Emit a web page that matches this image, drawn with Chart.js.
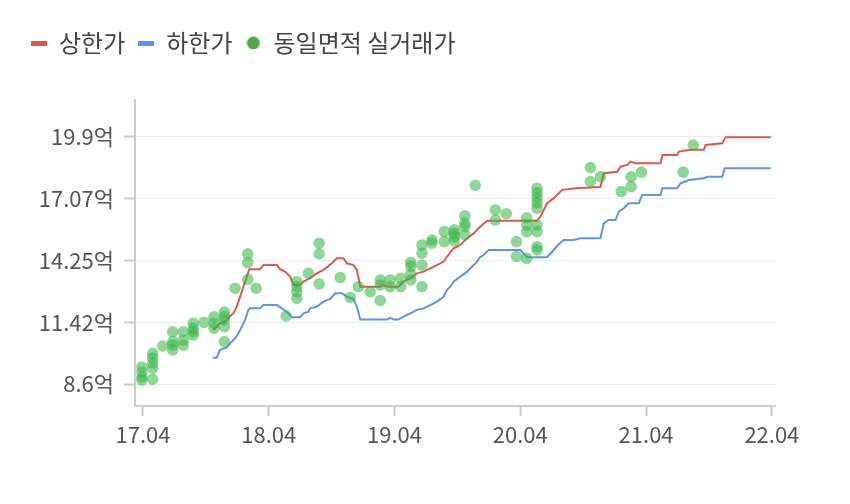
<!DOCTYPE html>
<html>
<head>
<meta charset="utf-8">
<script src="https://cdn.jsdelivr.net/npm/chart.js@4"></script>
<style>
  html, body { margin: 0; padding: 0; background: #fff; }
  #wrap { width: 850px; height: 504px; position: relative; }
</style>
</head>
<body>
<div id="wrap"><canvas id="chart"></canvas></div>
<script>
// ---- Data (x = months since 2017.04, y = price in 억) ----
const upperMonths = [6.66, 7.04, 7.35, 7.83, 8.12, 8.62, 8.95, 9.58, 10.15, 11.17, 11.49, 12.77, 13.08, 13.56, 14.04, 14.36, 14.99, 15.31, 15.95, 16.59, 17.22, 18.02, 18.5, 19.13, 19.46, 20.09, 20.41, 20.73, 22.64, 22.95, 23.43, 24.38, 24.86, 25.5, 26.14, 26.77, 27.41, 28.05, 28.68, 29.0, 29.64, 30.28, 30.92, 31.55, 32.19, 32.83, 37.6, 37.92, 38.56, 39.19, 39.99, 41.26, 43.65, 43.96, 45.24, 45.56, 46.2, 46.51, 46.99, 49.38, 49.57, 50.97, 51.13, 52.24, 53.51, 53.68, 55.27, 55.59, 59.89];
const upperPrice  = [11.07, 11.22, 11.38, 11.45, 11.62, 11.83, 12.14, 13.04, 13.85, 13.85, 14.04, 14.04, 13.85, 13.74, 13.51, 13.13, 13.13, 13.28, 13.44, 13.66, 13.82, 14.12, 14.35, 14.35, 14.12, 14.04, 13.82, 13.05, 13.05, 13.13, 13.05, 13.05, 13.28, 13.44, 13.66, 13.74, 13.89, 14.04, 14.2, 14.42, 14.81, 14.96, 15.27, 15.49, 15.8, 16.07, 16.07, 16.25, 16.87, 17.1, 17.48, 17.55, 17.61, 18.24, 18.31, 18.54, 18.62, 18.77, 18.7, 18.7, 19.08, 19.08, 19.23, 19.31, 19.31, 19.53, 19.61, 19.89, 19.89];

const lowerMonths = [6.66, 7.04, 7.35, 7.99, 8.31, 8.79, 9.1, 9.43, 9.74, 10.06, 10.22, 11.17, 11.49, 12.77, 13.25, 13.72, 14.2, 14.99, 15.31, 15.79, 15.95, 16.59, 17.22, 17.86, 18.34, 18.98, 19.46, 20.09, 20.41, 20.73, 23.28, 23.59, 23.91, 24.38, 24.86, 25.5, 26.14, 26.77, 27.41, 28.05, 28.68, 29.0, 29.32, 29.64, 30.28, 30.92, 31.55, 31.87, 32.19, 32.5, 32.98, 36.01, 36.65, 38.56, 39.19, 39.51, 40.14, 41.1, 41.74, 43.65, 43.96, 44.44, 45.08, 45.4, 45.87, 46.35, 47.31, 47.63, 49.38, 49.54, 50.97, 51.29, 52.08, 53.51, 53.84, 55.27, 55.49, 59.89];
const lowerPrice  = [9.8, 9.8, 10.16, 10.27, 10.46, 10.69, 10.92, 11.22, 11.53, 11.99, 12.06, 12.06, 12.21, 12.21, 12.06, 11.91, 11.65, 11.65, 11.83, 11.91, 12.06, 12.14, 12.37, 12.49, 12.75, 12.75, 12.59, 12.49, 12.14, 11.55, 11.55, 11.63, 11.55, 11.55, 11.68, 11.83, 11.99, 12.06, 12.21, 12.37, 12.59, 12.9, 13.05, 13.28, 13.51, 13.74, 14.04, 14.2, 14.42, 14.5, 14.73, 14.73, 14.4, 14.4, 14.73, 14.91, 15.19, 15.19, 15.27, 15.27, 15.95, 16.1, 16.1, 16.48, 16.64, 16.87, 16.87, 17.25, 17.25, 17.55, 17.55, 17.78, 17.93, 18.01, 18.08, 18.08, 18.47, 18.47];

// same-area actual deals
const dealMonths = [
  -0.1, -0.1, -0.1, -0.1,
  0.93, 0.93, 0.93, 0.93, 0.93,
  1.88,
  2.84, 2.84, 2.84, 2.84,
  3.85, 3.85, 3.85,
  4.8, 4.8, 4.8, 4.8,
  5.83,
  6.78, 6.78, 6.78,
  7.77, 7.77, 7.77, 7.77, 7.77,
  8.79,
  10.0, 10.0, 10.0,
  10.79,
  13.66,
  14.68, 14.68, 14.68, 14.68,
  15.79,
  16.81, 16.81, 16.81,
  18.82, 19.77, 20.56, 21.68,
  22.64, 22.64, 22.64,
  23.59, 23.59,
  24.6, 24.6,
  25.55, 25.55, 25.55, 25.55,
  26.62, 26.62, 26.62, 26.62,
  27.57, 27.57,
  28.75, 28.75,
  29.7, 29.7, 29.7, 29.7,
  30.71, 30.71, 30.71, 30.71,
  31.71,
  33.62, 33.62,
  34.67,
  35.63, 35.63,
  36.61, 36.61, 36.61, 36.61,
  37.6, 37.6, 37.6, 37.6, 37.6, 37.6, 37.6, 37.6, 37.6,
  42.69, 42.69,
  43.65, 45.63,
  46.58, 46.58,
  47.56, 51.55, 52.5
];
const dealPrice = [
  9.38, 9.15, 8.92, 8.78,
  10.0, 9.78, 9.55, 9.32, 8.82,
  10.34,
  10.99, 10.54, 10.38, 10.16,
  10.99, 10.61, 10.38,
  11.38, 11.15, 10.99, 10.84,
  11.42,
  11.67, 11.38, 11.15,
  11.89, 11.68, 11.53, 11.22, 10.54,
  12.98,
  14.55, 14.15, 13.39,
  12.98,
  11.71,
  13.28, 13.05, 12.82, 12.52,
  13.66,
  15.04, 14.55, 13.18,
  13.47, 12.56, 13.05, 12.82,
  13.36, 13.13, 12.42,
  13.36, 13.05,
  13.44, 13.05,
  14.16, 13.98, 13.63, 13.36,
  14.96, 14.58, 14.04, 13.05,
  15.19, 15.04,
  15.57, 15.11,
  15.65, 15.49, 15.34, 15.14,
  16.29, 15.95, 15.8, 15.42,
  17.69,
  16.56, 16.1,
  16.39,
  15.11, 14.43,
  16.2, 15.87, 15.57, 14.35,
  17.55, 17.34, 17.11, 16.88, 16.64, 15.87, 15.57, 14.88, 14.73,
  18.5, 17.86,
  18.08, 17.4,
  18.08, 17.63,
  18.29, 18.29, 19.53
];

const yTickValues = [8.6, 11.425, 14.25, 17.075, 19.9];
const yTickLabels = ['8.6억', '11.42억', '14.25억', '17.07억', '19.9억'];
const xTickValues = [0, 12, 24, 36, 48, 60];
const xTickLabels = ['17.04', '18.04', '19.04', '20.04', '21.04', '22.04'];

const seriesNames = ['상한가', '하한가', '동일면적 실거래가'];

// ---- Styles ----
const RED = '#e0574e';
const BLUE = '#5b94e8';
const DOT = 'rgba(52,180,70,0.55)';
const DOT_LEGEND = '#4fa84c';
const FONT = "'Noto Sans CJK KR', 'Noto Sans', sans-serif";
const AXIS = '#cccccc';

const zip = (xs, ys) => xs.map((x, i) => ({ x, y: ys[i] }));

// legend markers drawn on small canvases
function barMarker(color) {
  const c = document.createElement('canvas');
  c.width = 16; c.height = 5;
  const g = c.getContext('2d');
  g.fillStyle = color;
  g.fillRect(0, 0, 16, 5);
  return c;
}
function dotMarker(color) {
  const c = document.createElement('canvas');
  c.width = 14; c.height = 14;
  const g = c.getContext('2d');
  g.fillStyle = color;
  g.beginPath();
  g.arc(7, 7, 6.5, 0, Math.PI * 2);
  g.fill();
  return c;
}
const markers = [barMarker(RED), barMarker(BLUE), dotMarker(DOT_LEGEND)];

const PAD_TOP = 18;
const PAD_LEFT = 18;
const AREA_TOP = 100;
const AREA_LEFT = 135;

const legendGap = {
  id: 'legendGap',
  afterInit(chart) {
    const fit = chart.legend.fit;
    chart.legend.fit = function () {
      fit.call(this);
      this.height = AREA_TOP - PAD_TOP;
    };
  }
};

new Chart(document.getElementById('chart'), {
  type: 'line',
  data: {
    datasets: [
      {
        label: seriesNames[2],
        data: zip(dealMonths, dealPrice),
        showLine: false,
        pointRadius: 5.8,
        pointHoverRadius: 5.8,
        pointBackgroundColor: DOT,
        pointBorderWidth: 0,
        order: 0
      },
      {
        label: seriesNames[0],
        data: zip(upperMonths, upperPrice),
        borderColor: RED,
        borderWidth: 2,
        pointRadius: 0,
        tension: 0,
        order: 1
      },
      {
        label: seriesNames[1],
        data: zip(lowerMonths, lowerPrice),
        borderColor: BLUE,
        borderWidth: 2,
        pointRadius: 0,
        tension: 0,
        order: 2
      }
    ]
  },
  options: {
    responsive: true,
    maintainAspectRatio: false,
    animation: false,
    layout: { padding: { top: PAD_TOP, left: PAD_LEFT, right: 75, bottom: 0 } },
    plugins: {
      tooltip: { enabled: false },
      legend: {
        position: 'top',
        align: 'start',
        labels: {
          usePointStyle: true,
          boxWidth: 16,
          padding: 13,
          color: '#444',
          font: { family: FONT, size: 24 },
          generateLabels: () => seriesNames.map((text, i) => ({
            text,
            pointStyle: markers[i],
            fontColor: '#444',
            lineWidth: 0,
            hidden: false,
            datasetIndex: i === 2 ? 0 : i + 1
          }))
        }
      }
    },
    scales: {
      x: {
        type: 'linear',
        min: -0.76,
        max: 60.3,
        afterBuildTicks: (s) => { s.ticks = xTickValues.map(v => ({ value: v })); },
        afterFit: (s) => { s.height = 98; },
        border: { color: AXIS, width: 2 },
        grid: { drawOnChartArea: false, drawTicks: true, tickLength: 10, tickColor: AXIS, tickWidth: 2 },
        ticks: {
          color: '#555',
          padding: 5,
          maxRotation: 0,
          font: { family: FONT, size: 22 },
          callback: (v, i) => xTickLabels[i]
        }
      },
      y: {
        min: 7.594,
        max: 21.59,
        afterBuildTicks: (s) => { s.ticks = yTickValues.map(v => ({ value: v })); },
        afterFit: (s) => { s.width = AREA_LEFT - PAD_LEFT; },
        border: { color: AXIS, width: 2 },
        grid: { color: '#ececec', lineWidth: 1, tickLength: 11, tickColor: AXIS, tickWidth: 2 },
        ticks: {
          color: '#555',
          padding: 10,
          font: { family: FONT, size: 22 },
          callback: (v, i) => yTickLabels[i]
        }
      }
    }
  },
  plugins: [legendGap]
});
</script>
</body>
</html>
